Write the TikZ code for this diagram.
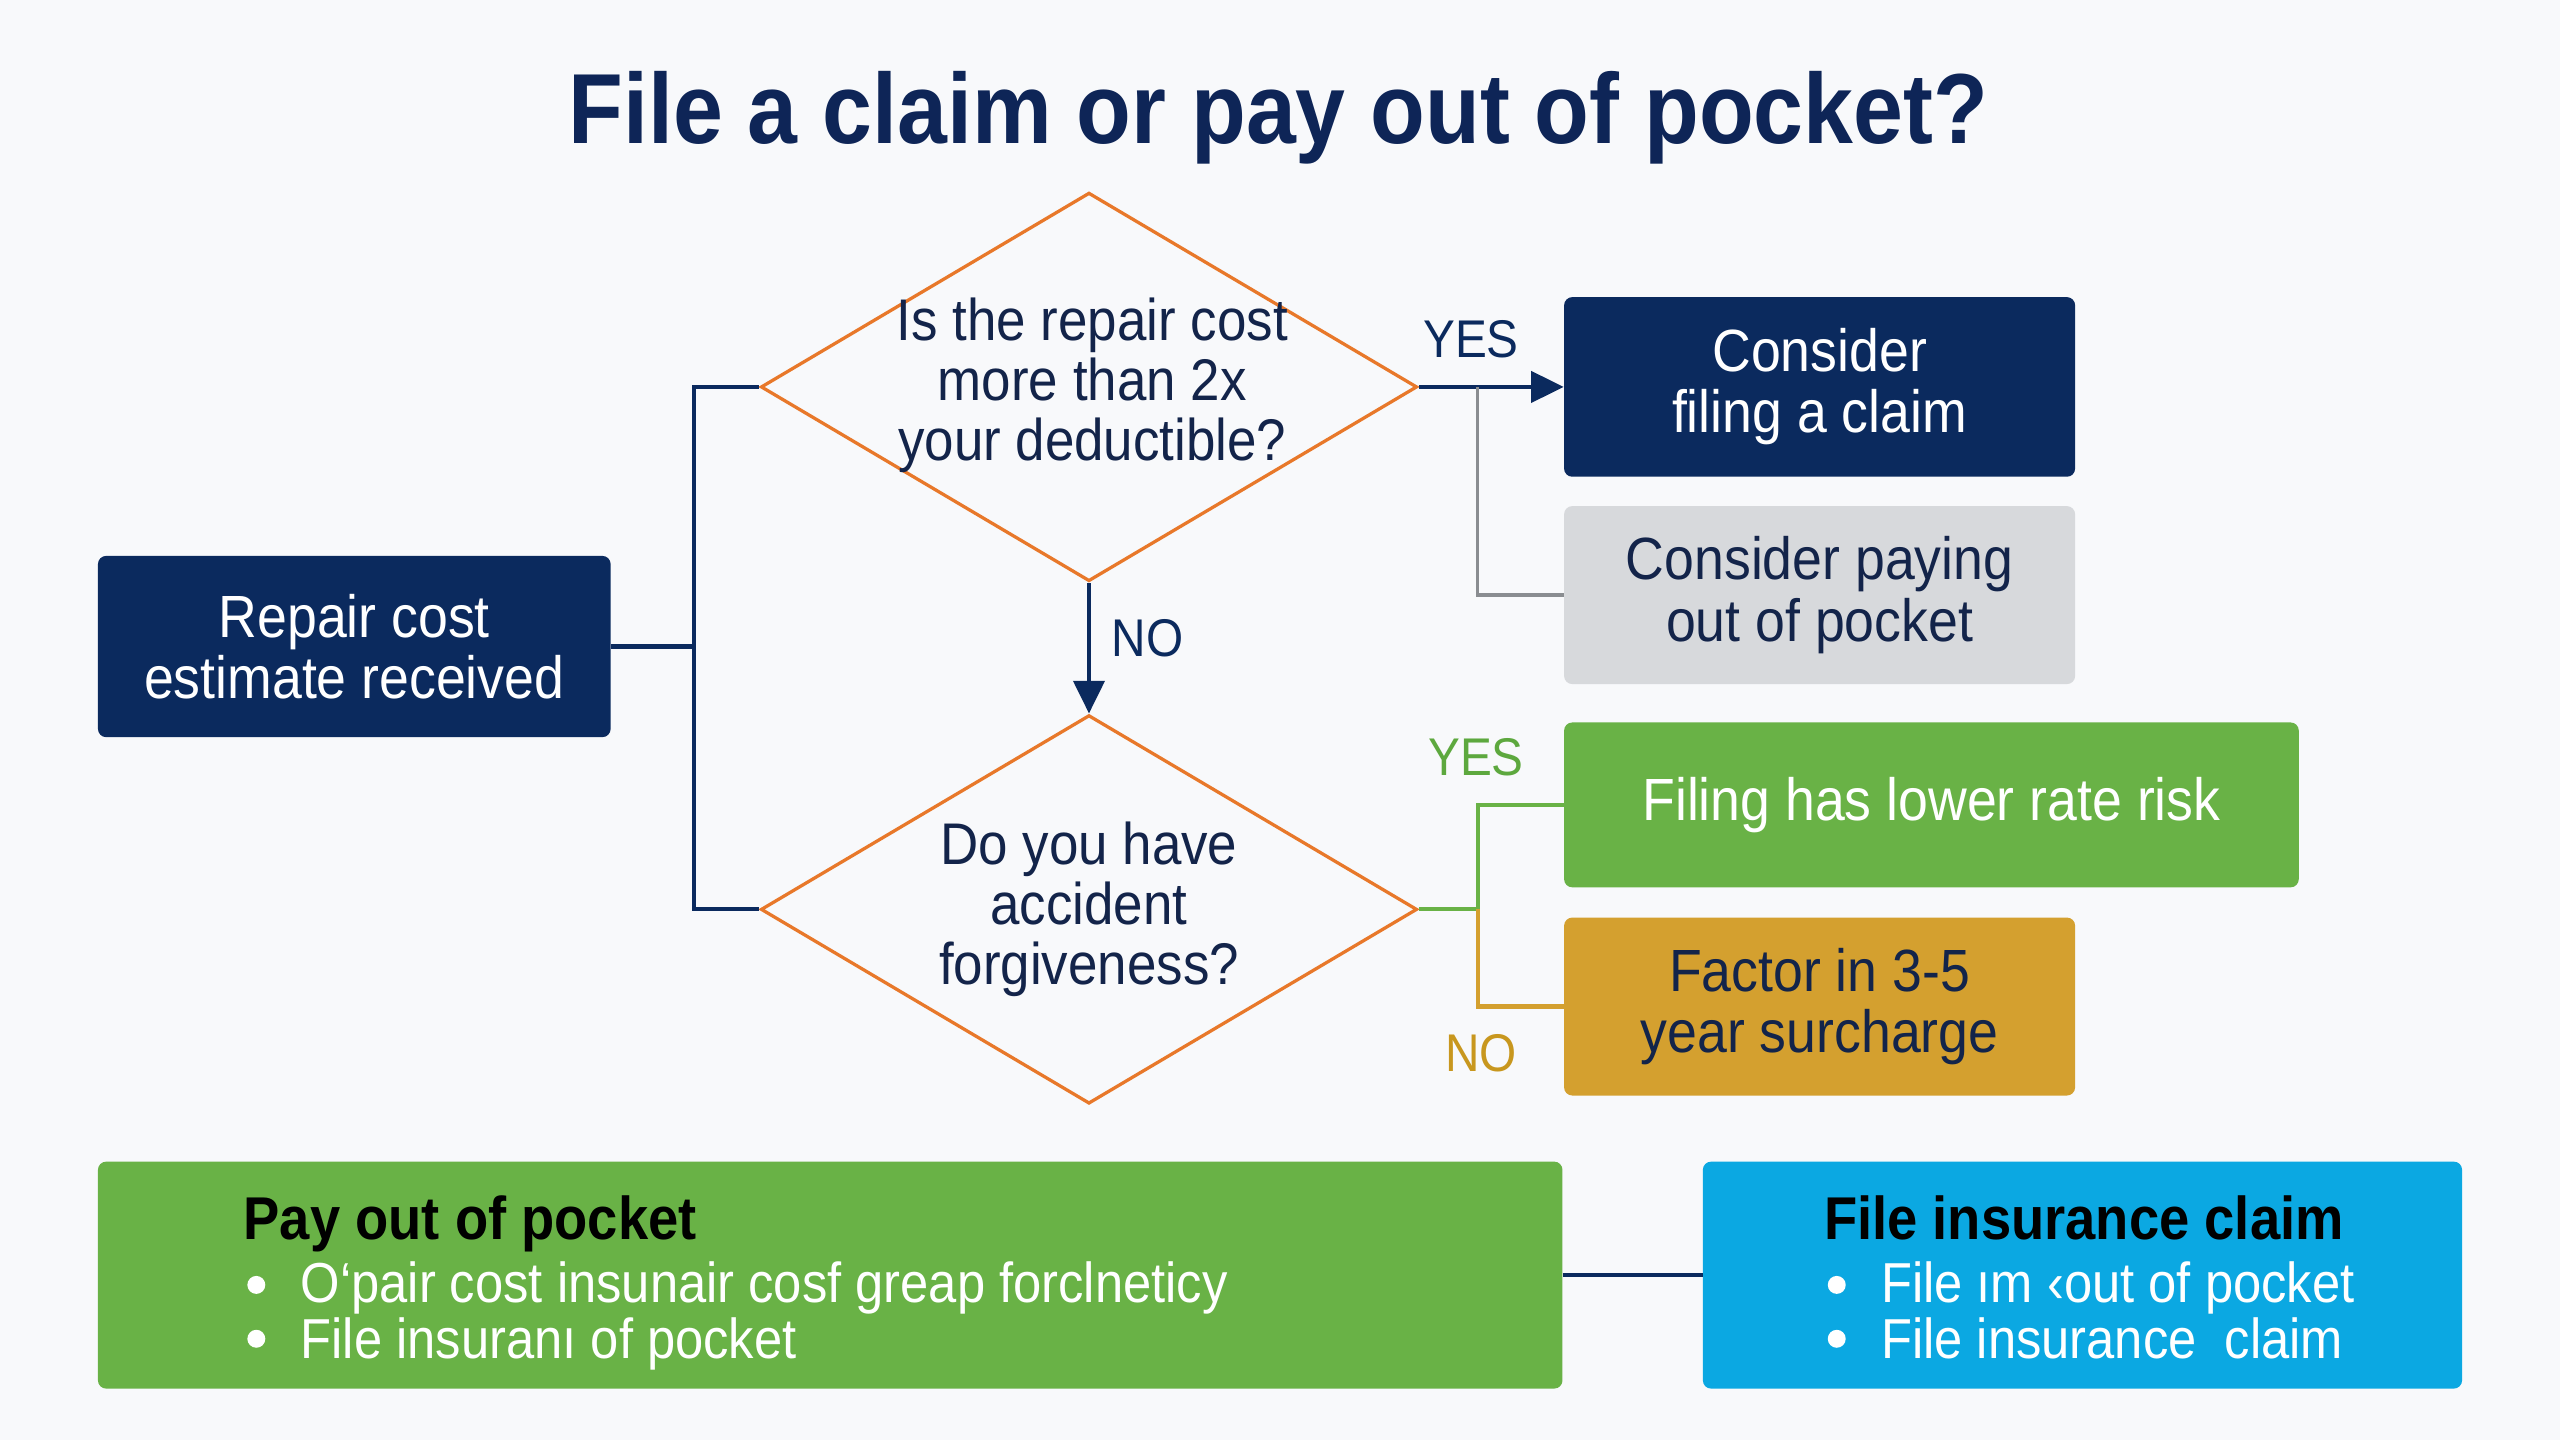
\documentclass[tikz,border=0pt]{standalone}
\usepackage{fontspec}
\setmainfont[FakeStretch=0.9]{Liberation Sans}
\usetikzlibrary{shapes.geometric,arrows.meta}
\definecolor{navy}{HTML}{0B2A5E}
\definecolor{titlenavy}{HTML}{0E2557}
\definecolor{darktxt}{HTML}{13244A}
\definecolor{dorange}{HTML}{E8782A}
\definecolor{lgray}{HTML}{D7D9DC}
\definecolor{gline}{HTML}{8A8D91}
\definecolor{fgreen}{HTML}{69B246}
\definecolor{lgreen}{HTML}{5DA83E}
\definecolor{gold}{HTML}{D4A02F}
\definecolor{goldtxt}{HTML}{C8971E}
\definecolor{sky}{HTML}{0BA8E2}
\definecolor{bg}{HTML}{F8F9FB}
\begin{document}
\begin{tikzpicture}[x=1pt,y=-1pt,
  rbox/.style={rectangle, rounded corners=5pt, inner sep=0pt, align=center,
    font=\fontsize{36.5}{37.5}\selectfont},
  dia/.style={diamond, draw=dorange, line width=2pt, inner sep=0pt,
    minimum width=402pt, minimum height=238pt},
  dtext/.style={align=center, text=darktxt, inner sep=0pt,
    font=\fontsize{36}{36.5}\selectfont},
  nline/.style={draw=navy, line width=2.5pt},
  tip/.style={-{Triangle[length=20pt,width=19pt]}},
  lbl/.style={font=\fontsize{32.5}{32.5}\selectfont, inner sep=0pt},
  btitle/.style={anchor=base west, inner sep=0pt, text=black,
    text height=27pt, text depth=6pt,
    font=\fontsize{37}{37}\selectfont\bfseries},
  bitem/.style={anchor=base west, inner sep=0pt, text=white,
    text height=25pt, text depth=7pt,
    font=\fontsize{34.5}{34.5}\selectfont},
  bdot/.style={fill=white}
]
\useasboundingbox (0,0) rectangle (1568,882);
\fill[bg] (0,0) rectangle (1568,882);

% title
\node[anchor=base, inner sep=0pt, text=titlenavy,
  font=\fontsize{61}{61}\selectfont\bfseries] (title) at (783,88)
  {File a claim or pay out of pocket?};

% boxes
\node[rbox, fill=navy, text=white, minimum width=314pt, minimum height=111pt]
  (rep) at (217,396) {Repair cost\\estimate received};
\node[rbox, fill=navy, text=white, minimum width=313pt, minimum height=110pt]
  (cfc) at (1114.5,237) {Consider\\filing a claim};
\node[rbox, fill=lgray, text=darktxt, minimum width=313pt, minimum height=109pt]
  (cpo) at (1114.5,364.5) {Consider paying\\out of pocket};
\node[rbox, fill=fgreen, text=white, minimum width=450pt, minimum height=101pt]
  (flr) at (1183,493) {Filing has lower rate risk};
\node[rbox, fill=gold, text=darktxt, minimum width=313pt, minimum height=109pt]
  (fac) at (1114.5,616.5) {Factor in 3-5\\year surcharge};

% diamonds
\node[dia] (d1) at (667,237) {};
\node[dtext] (d1t) at (669,236) {Is the repair cost\\more than 2x\\your deductible?};
\node[dia] (d2) at (667,557) {};
\node[dtext] (d2t) at (667,557) {Do you have\\accident\\forgiveness?};

% bottom boxes
\node[rbox, fill=fgreen, minimum width=897pt, minimum height=139pt]
  (pay) at (508.5,781) {};
\node[btitle] (payt) at (149,759) {Pay out of pocket};
\fill[bdot] (157,787) circle (5.5);
\fill[bdot] (157,820) circle (5.5);
\node[bitem] (pay1) at (184,798) {O‘pair cost insunair cosf greap forclneticy};
\node[bitem] (pay2) at (184,832) {File insuranı of pocket};

\node[rbox, fill=sky, minimum width=465pt, minimum height=139pt]
  (fic) at (1275.5,781) {};
\node[btitle] (fict) at (1117,759) {File insurance claim};
\fill[bdot] (1125,787) circle (5.5);
\fill[bdot] (1125,820) circle (5.5);
\node[bitem] (fic1) at (1152,798) {File ım ‹out of pocket};
\node[bitem] (fic2) at (1152,832) {File insurance \ claim};

% connectors
\coordinate (jx) at (425,396);
\draw[nline] (rep.east) -- (jx);
\draw[nline] (d1.west) -| (jx) |- (d2.west);
\draw[nline, tip, fill=navy] (d1.east) -- (cfc.west);
\coordinate (g1) at (905,237);
\draw[draw=gline, line width=2pt] (g1) |- (cpo.west);
\draw[nline, tip, fill=navy] (d1.south) -- (d2.north);
\coordinate (g2) at (905,557);
\draw[draw=fgreen, line width=2.5pt] (d2.east) -- (g2) |- (flr.west);
\draw[draw=gold, line width=2.5pt] (g2) |- (fac.west);
\draw[nline] (pay.east) -- (fic.west);

% labels
\node[lbl, text=navy] (yes1) at (901,208) {YES};
\node[lbl, text=navy] (no1) at (703,391) {NO};
\node[lbl, text=lgreen] (yes2) at (904,464) {YES};
\node[lbl, text=goldtxt] (no2) at (907,645) {NO};
\end{tikzpicture}
\end{document}
